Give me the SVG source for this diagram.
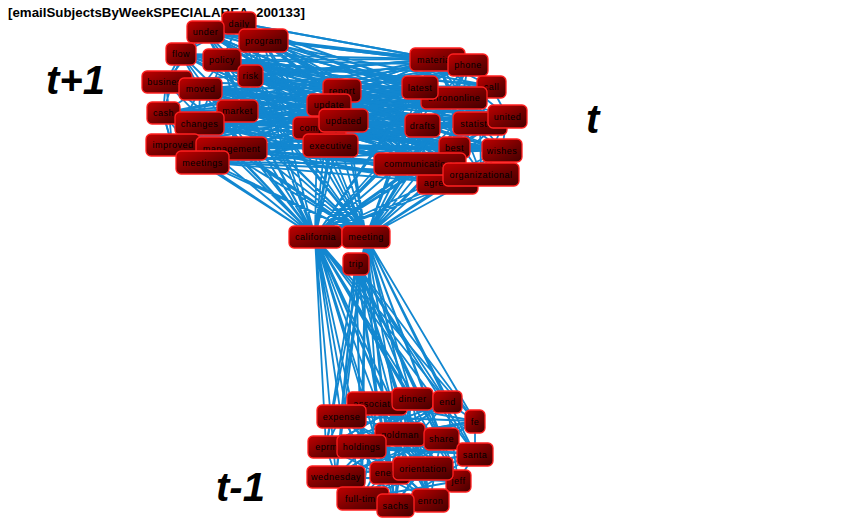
<svg xmlns="http://www.w3.org/2000/svg" width="841" height="529" viewBox="0 0 841 529">
<defs>
<linearGradient id="nodeFill" x1="0" y1="0" x2="1" y2="1">
<stop offset="0" stop-color="#c00000"/>
<stop offset="0.6" stop-color="#700000"/>
<stop offset="1" stop-color="#440000"/>
</linearGradient>
<style>
.edges path{fill:none;stroke:#1287d0;stroke-width:1.8;stroke-linejoin:round;stroke-linecap:round}
.node rect{fill:url(#nodeFill);stroke:#ff2020;stroke-width:1.3;rx:5px;ry:5px}
.node text{font-family:"Liberation Sans",Arial,sans-serif;font-size:9px;letter-spacing:0.5px;fill:#000;text-anchor:middle}
.title{font-family:"Liberation Sans",Arial,sans-serif;font-weight:bold;font-size:13.3px;fill:#000}
.tlabel{font-family:"Liberation Sans",Arial,sans-serif;font-weight:bold;font-style:italic;font-size:40px;fill:#000}
</style>
</defs>
<rect width="841" height="529" fill="#fff"/>
<g id="connectors" class="edges">
<path d="M239,23 L436,59 205,32 468,65 263,40 420,87 181,54 491,86 222,60 454,98 250,76 422,125 166,82 480,123 200,89 507,116 163,113 454,147 237,111 502,150 199,123 417,164 172,145 447,183 231,148 481,174 202,162"/>
<path d="M202,162 L436,59 231,148 468,65 172,145 420,87 199,123 491,86 237,111 454,98 163,113 422,125 200,89 480,123 166,82 507,116 250,76 454,147 222,60 502,150 181,54 417,164 263,40 447,183 205,32 481,174 239,23"/>
<path d="M166,82 L436,59 163,113 468,65 172,145 420,87 202,162 491,86 181,54 454,98 205,32 422,125 239,23 480,123 263,40 507,116 250,76 454,147 237,111 502,150 231,148 417,164 199,123 447,183 200,89 481,174 222,60"/>
<path d="M342,90 L436,59 329,105 468,65 317,128 420,87 343,120 491,86 330,145 454,98 342,90 422,125 329,105 480,123 317,128 507,116 343,120 454,147 330,145 502,150 342,90 417,164 329,105 447,183 317,128 481,174 343,120"/>
<path d="M239,23 L181,54 163,113 202,162 231,148 250,76 263,40 222,60 200,89 172,145 166,82 205,32 250,76 237,111 199,123 202,162 172,145 163,113 199,123 231,148 237,111 222,60 239,23 263,40 205,32 181,54 166,82 200,89 237,111"/>
<path d="M436,59 L420,87 422,125 417,164 447,183 454,147 454,98 468,65 491,86 507,116 502,150 481,174 480,123 454,98 436,59 468,65 420,87 454,98 422,125 454,147 502,150 480,123 491,86 436,59 507,116 481,174 447,183 417,164 420,87"/>
<path d="M239,23 L342,90 205,32 329,105 181,54 317,128 166,82 343,120 163,113 330,145 172,145 342,90 202,162 329,105 231,148 317,128 237,111 343,120 250,76 330,145 263,40 342,90 222,60 329,105 200,89 317,128 199,123 343,120"/>
<path d="M436,59 L342,90 468,65 329,105 420,87 317,128 491,86 343,120 454,98 330,145 422,125 342,90 480,123 329,105 507,116 317,128 454,147 343,120 502,150 330,145 417,164 342,90 447,183 329,105 481,174 317,128"/>
<path d="M263,40 L436,59 250,76 468,65 237,111 491,86 231,148 480,123 202,162 502,150 172,145 481,174 163,113 447,183 166,82 417,164 181,54 422,125 205,32 454,98 239,23 420,87 222,60 507,116 200,89 454,147 199,123 436,59"/>
<path d="M205,32 L491,86 181,54 507,116 166,82 502,150 163,113 481,174 199,123 454,147 231,148 447,183 202,162 417,164 237,111 422,125 250,76 454,98 263,40 468,65 239,23 436,59 222,60 480,123 200,89 420,87 172,145 491,86"/>
<path d="M181,54 L436,59 166,82 420,87 163,113 454,98 199,123 480,123 231,148 507,116 202,162 454,147 172,145 491,86 200,89 468,65 222,60 422,125 263,40 417,164 239,23 481,174 205,32 447,183 250,76 502,150 237,111 436,59"/>
<path d="M166,82 L163,113 172,145 202,162 199,123 200,89 181,54 205,32 239,23 263,40 250,76 237,111 231,148 199,123 222,60 205,32 166,82 200,89 163,113 231,148 250,76 202,162 237,111 172,145"/>
<path d="M436,59 L454,98 447,183 491,86 417,164 468,65 454,147 507,116 422,125 502,150 420,87 481,174 436,59 480,123 417,164"/>
<path d="M315,237 L239,23 366,237 205,32 315,237 263,40 366,237 181,54 315,237 222,60 366,237 250,76 315,237 166,82 366,237 200,89 315,237 163,113 366,237 237,111 315,237 199,123 366,237 172,145 315,237 231,148 366,237 202,162 315,237 342,90 366,237 329,105 315,237 317,128 366,237 343,120 315,237 330,145 366,237 436,59 315,237 468,65 366,237 420,87 315,237 491,86 366,237 454,98 315,237 422,125 366,237 480,123 315,237 507,116 366,237 454,147 315,237 502,150 366,237 417,164 315,237 447,183 366,237 481,174 315,237"/>
<path d="M315,237 L377,403 366,237 412,399 315,237 447,402 366,237 341,416 315,237 475,421 366,237 400,434 315,237 441,439 366,237 326,447 315,237 361,446 366,237 475,454 315,237 336,477 366,237 390,473 315,237 423,468 366,237 458,481 315,237 362,498 366,237 395,505 315,237 430,500 366,237"/>
<path d="M356,264 L377,403 356,264 412,399 356,264 447,402 356,264 341,416 356,264 475,421 356,264 400,434 356,264 441,439 356,264 326,447 356,264 361,446 356,264 475,454 356,264 336,477 356,264 390,473 356,264 423,468 356,264 458,481 356,264 362,498 356,264 395,505 356,264 430,500"/>
<path d="M377,403 L475,421 326,447 475,454 336,477 447,402 362,498 412,399 395,505 341,416 430,500 400,434 458,481 361,446 423,468 390,473 441,439"/>
<path d="M412,399 L326,447 447,402 336,477 475,421 362,498 377,403 430,500 341,416 458,481 400,434 475,454 361,446 395,505 441,439 390,473 423,468"/>
<path d="M341,416 L447,402 361,446 475,421 390,473 377,403 458,481 326,447 430,500 412,399 336,477 441,439 362,498 475,454 395,505 400,434 423,468"/>
<path d="M377,403 L412,399 447,402 475,421 475,454 458,481 430,500 395,505 362,498 336,477 326,447 341,416 377,403 400,434 390,473 361,446 441,439 423,468"/>
<path d="M447,402 L326,447 412,399 341,416 475,421 361,446 475,454 336,477 458,481 362,498 423,468 395,505 390,473 430,500 441,439 377,403 400,434 336,477"/>
<path d="M475,454 L377,403 423,468 341,416 441,439 326,447 400,434 475,421 390,473 412,399 361,446 447,402 458,481 336,477 395,505 430,500 362,498"/>
</g>
<text class="title" x="8" y="17">[emailSubjectsByWeekSPECIALAREA_200133]</text>
<text class="tlabel" x="46" y="94">t+1</text>
<text class="tlabel" x="586" y="133">t</text>
<text class="tlabel" x="216" y="501">t-1</text>
<g id="n-daily" class="node"><rect x="222" y="12" width="34" height="22"/><text x="239" y="27">daily</text></g>
<g id="n-under" class="node"><rect x="187" y="21" width="37" height="22"/><text x="205.5" y="35">under</text></g>
<g id="n-program" class="node"><rect x="239" y="29" width="49" height="23"/><text x="263.5" y="43.5">program</text></g>
<g id="n-flow" class="node"><rect x="166" y="43" width="30" height="22"/><text x="181" y="57">flow</text></g>
<g id="n-policy" class="node"><rect x="203" y="49" width="38" height="22"/><text x="222" y="63">policy</text></g>
<g id="n-risk" class="node"><rect x="238" y="65" width="25" height="22"/><text x="250.5" y="79">risk</text></g>
<g id="n-business" class="node"><rect x="142" y="71" width="50" height="22"/><text x="167" y="85">business</text></g>
<g id="n-moved" class="node"><rect x="179" y="78" width="43" height="22"/><text x="200.5" y="92">moved</text></g>
<g id="n-cash" class="node"><rect x="147" y="102" width="33" height="22"/><text x="163.5" y="116">cash</text></g>
<g id="n-market" class="node"><rect x="217" y="100" width="41" height="22"/><text x="237.5" y="114">market</text></g>
<g id="n-changes" class="node"><rect x="175" y="112" width="49" height="23"/><text x="199.5" y="126.5">changes</text></g>
<g id="n-improved" class="node"><rect x="146" y="134" width="54" height="22"/><text x="173" y="148">improved</text></g>
<g id="n-management" class="node"><rect x="196" y="137" width="71" height="23"/><text x="231.5" y="151.5">management</text></g>
<g id="n-meetings" class="node"><rect x="176" y="151" width="53" height="23"/><text x="202.5" y="165.5">meetings</text></g>
<g id="n-report" class="node"><rect x="323" y="79" width="38" height="23"/><text x="342" y="93.5">report</text></g>
<g id="n-update" class="node"><rect x="307" y="94" width="44" height="22"/><text x="329" y="108">update</text></g>
<g id="n-company" class="node"><rect x="293" y="117" width="53" height="22"/><text x="319.5" y="131">company</text></g>
<g id="n-updated" class="node"><rect x="319" y="109" width="49" height="23"/><text x="343.5" y="123.5">updated</text></g>
<g id="n-executive" class="node"><rect x="303" y="134" width="55" height="23"/><text x="330.5" y="148.5">executive</text></g>
<g id="n-materials" class="node"><rect x="410" y="48" width="55" height="23"/><text x="437.5" y="62.5">materials</text></g>
<g id="n-phone" class="node"><rect x="448" y="54" width="40" height="22"/><text x="468" y="68">phone</text></g>
<g id="n-call" class="node"><rect x="477" y="76" width="29" height="22"/><text x="491.5" y="90">call</text></g>
<g id="n-enrononline" class="node"><rect x="421" y="87" width="66" height="22"/><text x="454" y="101">enrononline</text></g>
<g id="n-latest" class="node"><rect x="402" y="76" width="36" height="23"/><text x="420" y="90.5">latest</text></g>
<g id="n-drafts" class="node"><rect x="405" y="114" width="35" height="23"/><text x="422.5" y="128.5">drafts</text></g>
<g id="n-statistics" class="node"><rect x="453" y="112" width="54" height="23"/><text x="480" y="126.5">statistics</text></g>
<g id="n-united" class="node"><rect x="488" y="105" width="39" height="23"/><text x="507.5" y="119.5">united</text></g>
<g id="n-best" class="node"><rect x="439" y="137" width="31" height="21"/><text x="454.5" y="150.5">best</text></g>
<g id="n-wishes" class="node"><rect x="482" y="139" width="40" height="23"/><text x="502" y="153.5">wishes</text></g>
<g id="n-agreement" class="node"><rect x="417" y="172" width="61" height="22"/><text x="447.5" y="186">agreement</text></g>
<g id="n-communications" class="node"><rect x="374" y="153" width="92" height="22"/><text x="420" y="167">communications</text></g>
<g id="n-organizational" class="node"><rect x="443" y="163" width="76" height="23"/><text x="481" y="177.5">organizational</text></g>
<g id="n-california" class="node"><rect x="289" y="226" width="53" height="22"/><text x="315.5" y="240">california</text></g>
<g id="n-meeting" class="node"><rect x="342" y="226" width="48" height="22"/><text x="366" y="240">meeting</text></g>
<g id="n-trip" class="node"><rect x="343" y="253" width="26" height="22"/><text x="356" y="267">trip</text></g>
<g id="n-associates" class="node"><rect x="347" y="392" width="60" height="23"/><text x="377" y="406.5">associates</text></g>
<g id="n-expense" class="node"><rect x="317" y="405" width="49" height="23"/><text x="341.5" y="419.5">expense</text></g>
<g id="n-dinner" class="node"><rect x="392" y="388" width="41" height="22"/><text x="412.5" y="402">dinner</text></g>
<g id="n-end" class="node"><rect x="433" y="391" width="29" height="22"/><text x="447.5" y="405">end</text></g>
<g id="n-fe" class="node"><rect x="465" y="410" width="20" height="23"/><text x="475" y="424.5">fe</text></g>
<g id="n-goldman" class="node"><rect x="375" y="423" width="50" height="23"/><text x="400" y="437.5">goldman</text></g>
<g id="n-share" class="node"><rect x="424" y="428" width="35" height="22"/><text x="441.5" y="442">share</text></g>
<g id="n-eprm" class="node"><rect x="308" y="436" width="37" height="22"/><text x="326.5" y="450">eprm</text></g>
<g id="n-holdings" class="node"><rect x="337" y="435" width="49" height="23"/><text x="361.5" y="449.5">holdings</text></g>
<g id="n-santa" class="node"><rect x="457" y="443" width="36" height="23"/><text x="475" y="457.5">santa</text></g>
<g id="n-wednesday" class="node"><rect x="307" y="466" width="58" height="22"/><text x="336" y="480">wednesday</text></g>
<g id="n-energy" class="node"><rect x="370" y="462" width="40" height="22"/><text x="390" y="476">energy</text></g>
<g id="n-jeff" class="node"><rect x="446" y="470" width="25" height="22"/><text x="458.5" y="484">jeff</text></g>
<g id="n-orientation" class="node"><rect x="393" y="457" width="60" height="23"/><text x="423" y="471.5">orientation</text></g>
<g id="n-full-time" class="node"><rect x="337" y="487" width="52" height="23"/><text x="363" y="501.5">full-time</text></g>
<g id="n-enron" class="node"><rect x="412" y="489" width="37" height="23"/><text x="430.5" y="503.5">enron</text></g>
<g id="n-sachs" class="node"><rect x="377" y="494" width="37" height="23"/><text x="395.5" y="508.5">sachs</text></g>
</svg>
